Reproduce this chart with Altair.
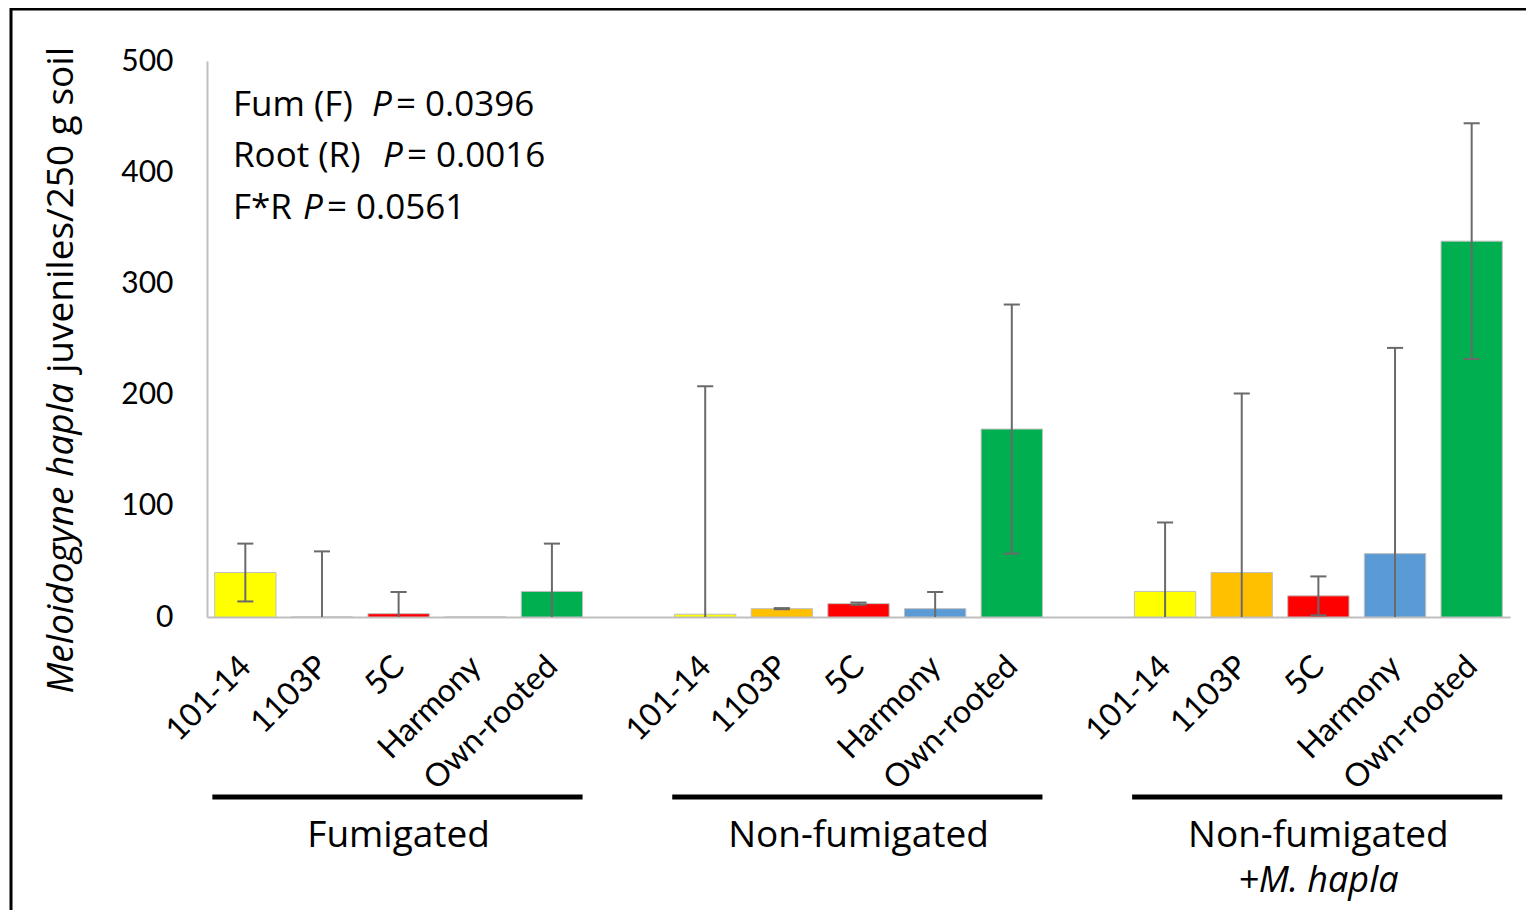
import altair as alt
import pandas as pd

groups = ["Fumigated", "Non-fumigated", "Non-fumigated +M. hapla"]
cultivars = ["101-14", "1103P", "5C", "Harmony", "Own-rooted"]
colors = ["#FFFF00", "#FFC000", "#FF0000", "#5B9BD5", "#00B050"]

mean_fum = [40, 0, 3, 0, 23]
se_fum = [26, 59, 19.5, 0, 43]
mean_nonfum = [2.5, 7.5, 12, 7.5, 169]
se_nonfum = [205, 0.5, 1, 15, 112]
mean_mhapla = [23, 40, 19, 57, 338]
se_mhapla = [62, 161, 17.5, 185, 106]

stats = ["Fum (F)", "Root (R)", "F*R"]
pvals = ["0.0396", "0.0016", "0.0561"]

FONT = "Lato"
FONT2 = "Open Sans"

rows = []
for g, (means, ses) in enumerate([(mean_fum, se_fum), (mean_nonfum, se_nonfum), (mean_mhapla, se_mhapla)]):
    for c, (m, s) in enumerate(zip(means, ses)):
        rows.append({
            "group": groups[g], "cultivar": cultivars[c], "pos": g * 6 + c,
            "mean": m, "se": s, "lo": max(0, m - s), "hi": m + s,
        })
df = pd.DataFrame(rows)
df["x1"] = df["pos"] - 0.4
df["x2"] = df["pos"] + 0.4
df["c1"] = df["pos"] - 0.105
df["c2"] = df["pos"] + 0.105

gdf = pd.DataFrame({
    "group": groups,
    "label1": ["Fumigated", "Non-fumigated", "Non-fumigated"],
    "label2": ["", "", "+M. hapla"],
    "center": [g * 6 + 2 for g in range(3)],
    "start": [g * 6 - 0.43 for g in range(3)],
    "end": [g * 6 + 4 + 0.4 for g in range(3)],
})

W, H = 1303, 556
xscale = alt.Scale(domain=[-0.5, 16.5], nice=False, zero=False)
yscale = alt.Scale(domain=[0, 500], nice=False)

label_expr = ""
for i, name in enumerate(cultivars):
    label_expr += f"datum.value % 6 == {i} ? '{name}' : "
label_expr += "''"

base = alt.Chart(df)

bars = base.mark_rect(stroke="#BFBFBF", strokeWidth=1).encode(
    x=alt.X("x1:Q", scale=xscale, axis=alt.Axis(
        values=[int(p) for p in df["pos"]], labelExpr=label_expr, labelAngle=-45,
        labelAlign="right", labelBaseline="middle", labelPadding=44,
        ticks=False, tickSize=0, grid=False, title=None, labelFlush=False,
        labelOverlap=False, labelFontSize=32, labelFont=FONT, labelColor="black",
        domainColor="#BFBFBF", domainWidth=2)),
    x2="x2:Q",
    y=alt.Y("mean:Q", scale=yscale, axis=alt.Axis(
        values=[0, 100, 200, 300, 400, 500], ticks=False, tickSize=0, grid=False,
        title=None, labelPadding=34, labelFontSize=30, labelFont=FONT,
        labelColor="black", domainColor="#BFBFBF", domainWidth=2)),
    y2=alt.datum(0),
    fill=alt.Fill("cultivar:N", scale=alt.Scale(domain=cultivars, range=colors), legend=None),
)

err = alt.Chart(df[df["se"] > 0]).mark_rule(color="#6A6A6A", strokeWidth=2).encode(
    x=alt.X("pos:Q", scale=xscale), y=alt.Y("lo:Q", scale=yscale), y2="hi:Q")
cap_hi = alt.Chart(df[df["se"] > 0]).mark_rule(color="#6A6A6A", strokeWidth=2).encode(
    x=alt.X("c1:Q", scale=xscale), x2="c2:Q", y=alt.Y("hi:Q", scale=yscale))
cap_lo = alt.Chart(df[(df["se"] > 0) & (df["mean"] - df["se"] > 0)]).mark_rule(
    color="#6A6A6A", strokeWidth=2).encode(
    x=alt.X("c1:Q", scale=xscale), x2="c2:Q", y=alt.Y("lo:Q", scale=yscale))

glines = alt.Chart(gdf).mark_rule(color="black", strokeWidth=5).encode(
    x=alt.X("start:Q", scale=xscale), x2="end:Q", y=alt.value(736))
glab1 = alt.Chart(gdf).mark_text(font=FONT2, fontSize=37, baseline="middle", color="black").encode(
    x=alt.X("center:Q", scale=xscale), y=alt.value(775), text="label1:N")
glab2 = alt.Chart(gdf).mark_text(font=FONT2, fontSize=36, baseline="middle", fontStyle="italic",
                                 color="black").encode(
    x=alt.X("center:Q", scale=xscale), y=alt.value(820), text="label2:N")

# annotation lines: plain prefix, italic P, plain value
ann = []
line_y = [55, 106, 158]
px = [165, 176, 96]
ex = [189, 200, 120]
for i in range(3):
    d = pd.DataFrame({"pre": [stats[i]], "p": ["P"], "val": ["= " + pvals[i]]})
    ann.append(alt.Chart(d).mark_text(font=FONT2, fontSize=35, align="left",
                                      baseline="alphabetic", color="black").encode(
        x=alt.value(26), y=alt.value(line_y[i]), text="pre:N"))
    ann.append(alt.Chart(d).mark_text(font=FONT2, fontSize=35, align="left", fontStyle="italic",
                                      baseline="alphabetic", color="black").encode(
        x=alt.value(px[i]), y=alt.value(line_y[i]), text="p:N"))
    ann.append(alt.Chart(d).mark_text(font=FONT2, fontSize=35, align="left",
                                      baseline="alphabetic", color="black").encode(
        x=alt.value(ex[i]), y=alt.value(line_y[i]), text="val:N"))

# y title in two styles, joined at the junction
t1 = alt.Chart(pd.DataFrame({"t": ["Meloidogyne hapla"]})).mark_text(
    font=FONT2, fontSize=37, angle=270, align="right", baseline="alphabetic",
    fontStyle="italic", color="black").encode(
    x=alt.value(-134), y=alt.value(322), text="t:N")
t2 = alt.Chart(pd.DataFrame({"t": ["juveniles/250 g soil"]})).mark_text(
    font=FONT2, fontSize=37, angle=270, align="left", baseline="alphabetic",
    color="black").encode(
    x=alt.value(-134), y=alt.value(312), text="t:N")

frame = alt.Chart(pd.DataFrame({"a": [0]})).mark_rect(
    fill=None, stroke="black", strokeWidth=3).encode(
    x=alt.value(-196), x2=alt.value(W + 60), y=alt.value(-52), y2=alt.value(H + 400))

chart = alt.layer(bars, err, cap_hi, cap_lo, glines, glab1, glab2, *ann, t1, t2, frame).properties(
    width=W, height=H, autosize="none", background="white",
    padding={"left": 199, "top": 53, "right": 16, "bottom": 293},
).configure_view(stroke=None)

chart.save("out.html", embed_options={"renderer": "svg", "actions": False})
